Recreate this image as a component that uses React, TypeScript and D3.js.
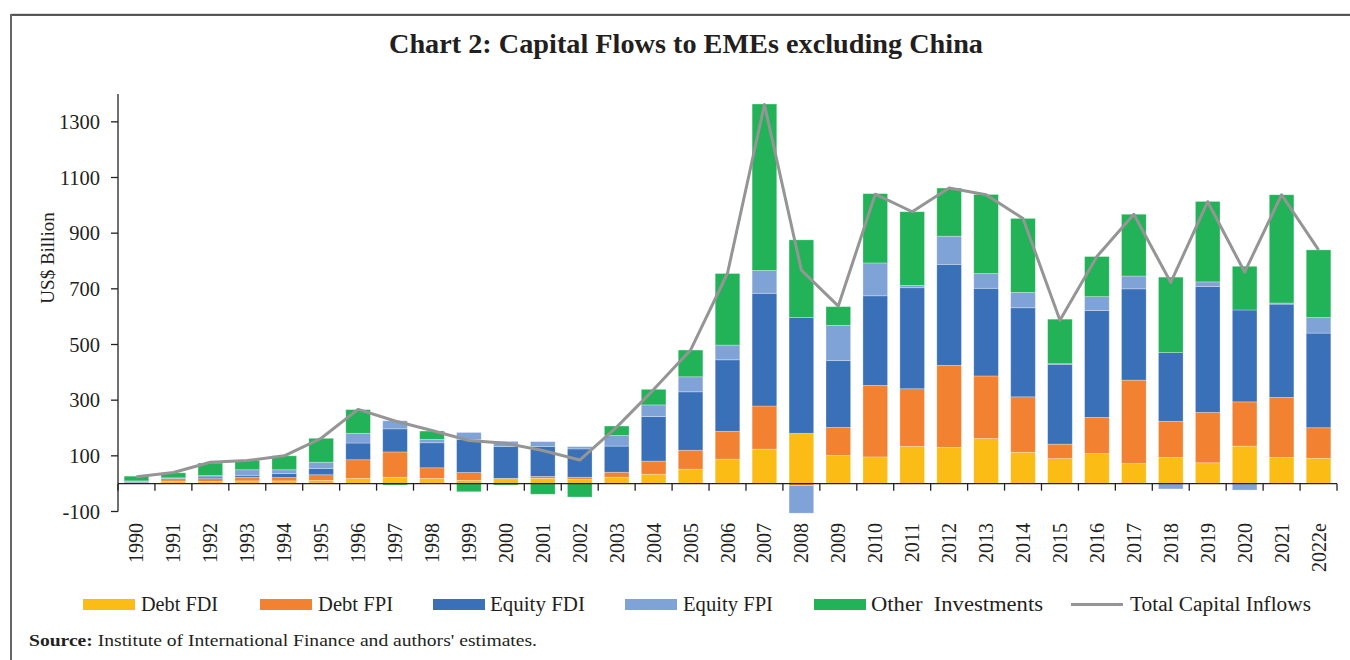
import React from "react";
import * as d3 from "d3";

const years = ["1990","1991","1992","1993","1994","1995","1996","1997","1998","1999","2000","2001","2002","2003","2004","2005","2006","2007","2008","2009","2010","2011","2012","2013","2014","2015","2016","2017","2018","2019","2020","2021","2022e"];
const debtFDI = [2,8,8,10,10,12,19,23,19,12,18,19,16,23,34,52,88,124,181,101,96,134,130,162,113,90,108,72,94,75,135,94,91];
const debtFPI = [2,6,10,13,12,20,67,91,38,28,1,7,7,18,47,68,100,155,-7,101,257,207,295,225,199,52,130,300,130,181,159,216,110];
const equityFDI = [4,5,6,7,14,23,60,83,90,119,115,108,102,94,160,210,257,405,416,240,322,363,363,315,320,287,384,328,247,452,330,335,340];
const equityFPI = [2,2,5,20,14,22,35,29,12,25,18,17,8,38,42,54,53,82,-99,127,118,8,101,53,55,2,50,46,-19,17,-23,4,56];
const otherInv = [17,18,45,34,50,86,85,-5,30,-29,-5,-38,-48,34,56,96,257,598,279,67,249,265,173,284,266,160,144,222,271,289,157,389,243];
const totalInflows = [25,40,77,83,100,163,267,225,191,155,145,119,85,203,338,480,756,1362,767,638,1040,977,1062,1038,953,587,816,968,723,1013,760,1038,840];
const yTicks = [-100,100,300,500,700,900,1100,1300];

const seriesKeys = ["debtFDI","debtFPI","equityFDI","equityFPI","otherInv"];
const seriesLabels = ["Debt FDI","Debt FPI","Equity FDI","Equity FPI","Other  Investments"];
const seriesColors = ["#FBBC16","#F28131","#3A70B7","#7FA3D6","#22B257"];
const lineLabel = "Total Capital Inflows";
const lineColor = "#959595";

const W = 1350, H = 660;
const serif = "'Liberation Serif', 'Times New Roman', serif";

export default function App() {
  const rows = years.map((y, i) => ({
    year: y,
    debtFDI: debtFDI[i],
    debtFPI: debtFPI[i],
    equityFDI: equityFDI[i],
    equityFPI: equityFPI[i],
    otherInv: otherInv[i],
  }));
  const x = d3.scaleBand<string>().domain(years).range([118, 1337]).paddingInner(0).paddingOuter(0);
  const y = d3.scaleLinear().domain([-100, 1400]).range([511.5, 94]);
  const stack = d3.stack<any>().keys(seriesKeys).offset(d3.stackOffsetDiverging);
  const layers = stack(rows);
  const bw = x.bandwidth();
  const barW = bw / 1.5;
  const line = d3.line<number>()
    .x((_, i) => (x(years[i]) as number) + bw / 2)
    .y((d) => y(d));

  const legendX = [83, 260, 433, 625, 814];
  const legendTextX = [141, 318, 490, 683, 871];
  const legendTextW = [77, 75, 95, 90, 172];

  return (
    <div style={{ position: "absolute", left: 0, top: 0 }}>
      <svg width={W} height={H} style={{ display: "block", background: "#fff" }}>
        {/* frame */}
        <line x1={11} y1={14} x2={W} y2={14} stroke="#bbb" strokeWidth={1} />
        <line x1={11} y1={15} x2={W} y2={15} stroke="#222" strokeWidth={1.5} />
        <line x1={11} y1={14} x2={11} y2={H} stroke="#666" strokeWidth={2} />

        <text x={686} y={53} textAnchor="middle" fontFamily={serif} fontWeight="bold" fontSize={27} fill="#231f20" textLength={594} lengthAdjust="spacingAndGlyphs">
          Chart 2: Capital Flows to EMEs excluding China
        </text>

        {/* bars */}
        {layers.map((layer, li) => (
          <g key={layer.key} fill={seriesColors[li]}>
            {layer.map((d, i) => {
              const y0 = y(d[0]), y1 = y(d[1]);
              const h = Math.abs(y0 - y1);
              if (h < 0.01) return null;
              return (
                <rect key={i}
                  x={(x(years[i]) as number) + (bw - barW) / 2}
                  y={Math.min(y0, y1)}
                  width={barW}
                  height={h}
                  stroke="#ffffff" strokeOpacity={0.35} strokeWidth={0.8} />
              );
            })}
          </g>
        ))}

        {/* x axis */}
        <line x1={118} x2={1337} y1={y(0)} y2={y(0)} stroke="#222" strokeWidth={1.3} />
        {years.map((yr, i) => (
          <line key={"xt" + i} x1={(x(yr) as number)} x2={(x(yr) as number)} y1={y(0)} y2={y(0) + 7} stroke="#222" strokeWidth={1.3} />
        ))}
        <line x1={1337} x2={1337} y1={y(0)} y2={y(0) + 7} stroke="#222" strokeWidth={1.3} />
        {years.map((yr, i) => {
          const cx = (x(yr) as number) + bw / 2 + 7;
          return (
            <text key={"xl" + i} transform={`translate(${cx},523) rotate(-90)`} textAnchor="end" fontFamily={serif} fontSize={20} fill="#231f20">
              {yr}
            </text>
          );
        })}

        {/* y axis */}
        <line x1={118} x2={118} y1={94} y2={511.5} stroke="#222" strokeWidth={1.3} />
        {yTicks.map((t) => (
          <g key={"yt" + t}>
            <line x1={111} x2={118} y1={y(t)} y2={y(t)} stroke="#222" strokeWidth={1.3} />
            <text x={100} y={y(t) + 7} textAnchor="end" fontFamily={serif} fontSize={20.5} fill="#231f20">{t}</text>
          </g>
        ))}
        <text transform="translate(54,258) rotate(-90)" textAnchor="middle" fontFamily={serif} fontSize={19} fill="#231f20">US$ Billion</text>

        {/* total line */}
        <path d={line(totalInflows) || ""} fill="none" stroke={lineColor} strokeWidth={3} strokeLinejoin="round" />

        {/* legend */}
        {seriesLabels.map((lab, i) => (
          <g key={"lg" + i}>
            <rect x={legendX[i]} y={599} width={52} height={11} fill={seriesColors[i]} />
            <text x={legendTextX[i]} y={611} fontFamily={serif} fontSize={20.5} fill="#231f20" style={{ whiteSpace: "pre" }} textLength={legendTextW[i]} lengthAdjust="spacingAndGlyphs">{lab}</text>
          </g>
        ))}
        <line x1={1071} x2={1123} y1={604.5} y2={604.5} stroke={lineColor} strokeWidth={3} />
        <text x={1130} y={611} fontFamily={serif} fontSize={20.5} fill="#231f20" textLength={181} lengthAdjust="spacingAndGlyphs">{lineLabel}</text>

        {/* source */}
        <text x={29} y={646} fontFamily={serif} fontSize={17.5} fill="#231f20" textLength={508} lengthAdjust="spacingAndGlyphs">
          <tspan fontWeight="bold">Source:</tspan>
          <tspan> Institute of International Finance and authors' estimates.</tspan>
        </text>
      </svg>
    </div>
  );
}
